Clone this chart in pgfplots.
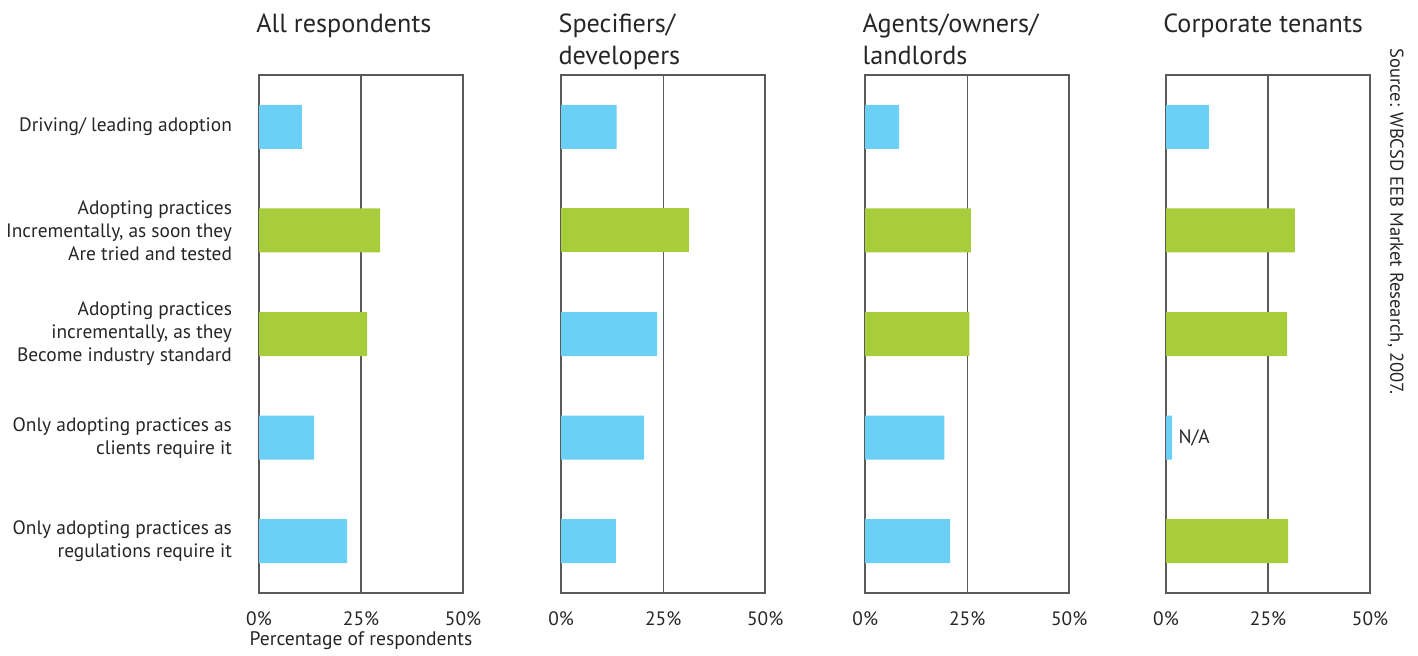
\documentclass[border=0pt]{standalone}
\usepackage{pgfplots}
\pgfplotsset{compat=1.18}
\usepackage{fontspec}
\setmainfont{PT Sans}
\definecolor{barBlue}{HTML}{6CCFF6}
\definecolor{barGreen}{HTML}{A8CD3A}
\definecolor{frameGray}{HTML}{5A5A5A}

\pgfplotsset{
  panel/.style={
    scale only axis,
    width=102pt, height=259pt,
    anchor=south west,
    xmin=0, xmax=50,
    ymin=-0.5, ymax=4.5,
    y dir=reverse,
    xtick={0,25,50},
    xticklabels={0\%,25\%,50\%},
    ytick={0,1,2,3,4},
    major tick length=0pt,
    xmajorgrids,
    grid style={draw=frameGray, line width=0.65pt},
    axis line style={draw=frameGray, line width=0.75pt},
    xbar, bar shift=0pt, bar width=22pt,
    tick label style={font=\fontsize{9.7}{11.5}\selectfont, text=black!85},
    xticklabel style={yshift=-6pt},
    yticklabel style={align=right, xshift=-10pt},
    title style={at={(0,1)}, anchor=base west, yshift=15.5pt, xshift=-1.5pt,
                 inner sep=0pt, font=\fontsize{13.1}{16}\selectfont, text=black!85},
  },
  blue bars/.style={fill=barBlue, draw=none},
  green bars/.style={fill=barGreen, draw=none},
}

\begin{document}
\begin{tikzpicture}
\path[use as bounding box] (0,0) rectangle (709pt,327.5pt);

% all respondents
\begin{axis}[panel, at={(129.5pt,31pt)},
  title={All respondents},
  yticklabels={Driving/ leading adoption,
    {Adopting practices\\Incrementally, as soon they\\Are tried and tested},
    {Adopting practices\\incrementally, as they\\Become industry standard},
    {Only adopting practices as\\clients require it},
    {Only adopting practices as\\regulations require it}},
  xlabel={Percentage of respondents},
  xlabel style={at={(axis description cs:0.5,0)}, anchor=base, yshift=-26pt,
                inner sep=0pt, font=\fontsize{9.8}{11.5}\selectfont, text=black!85},
]
  \addplot[blue bars] coordinates {(10.5,0) (13.5,3) (21.6,4)};
  \addplot[green bars] coordinates {(29.7,1) (26.5,2)};
\end{axis}

% specifiers / developers
\begin{axis}[panel, at={(280.6pt,31pt)},
  title={\begin{tabular}[t]{@{}l@{}}Specifiers/\\developers\end{tabular}},
  yticklabels={},
]
  \addplot[blue bars] coordinates {(13.6,0) (23.5,2) (20.3,3) (13.4,4)};
  \addplot[green bars] coordinates {(31.2,1)};
\end{axis}

% agents / owners / landlords
\begin{axis}[panel, at={(432.6pt,31pt)},
  title={\begin{tabular}[t]{@{}l@{}}Agents/owners/\\landlords\end{tabular}},
  yticklabels={},
]
  \addplot[blue bars] coordinates {(8.3,0) (19.4,3) (20.8,4)};
  \addplot[green bars] coordinates {(25.9,1) (25.5,2)};
\end{axis}

% corporate tenants
\begin{axis}[panel, at={(583pt,31pt)},
  title={Corporate tenants},
  yticklabels={},
]
  \addplot[blue bars] coordinates {(10.5,0) (1.5,3)};
  \addplot[green bars] coordinates {(31.6,1) (29.7,2) (29.9,4)};
  \node[anchor=west, inner sep=0pt, xshift=3pt, font=\fontsize{9.7}{11.5}\selectfont,
        text=black!85] at (axis cs:1.5,3) {N/A};
\end{axis}

\node[rotate=-90, anchor=north west, inner sep=0pt,
      font=\fontsize{9.3}{10}\selectfont, text=black!85]
  at (702pt,303.5pt) {Source: WBCSD EEB Market Research, 2007.};
\end{tikzpicture}
\end{document}
